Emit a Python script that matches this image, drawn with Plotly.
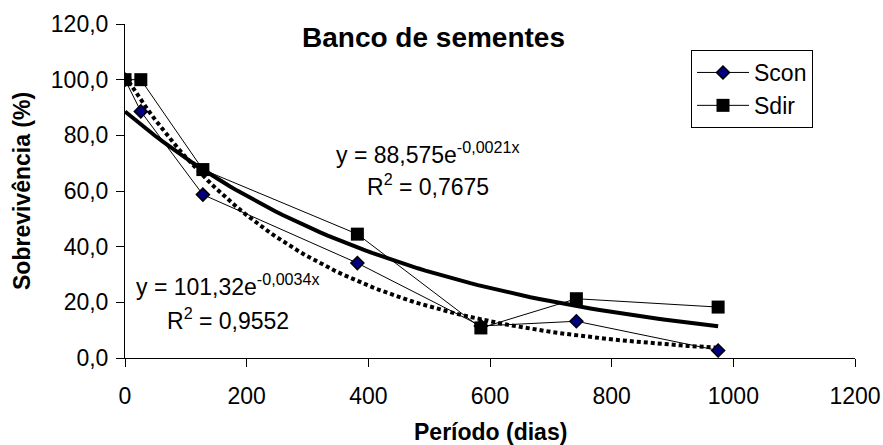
import numpy as np
import plotly.graph_objects as go

# ---- data ----
days = [0, 26, 128, 382, 585, 742, 975]
scon = [100.0, 88.6, 58.7, 34.1, 11.5, 13.2, 2.7]
sdir = [100.0, 100.0, 67.7, 44.5, 10.8, 21.3, 18.3]

# exponential trendline coefficients shown on the chart: y = a * exp(b x)
trend_scon = (101.32, -0.0034)
trend_sdir = (88.575, -0.0021)

x_ticks = [0, 200, 400, 600, 800, 1000, 1200]
y_ticks = [0, 20, 40, 60, 80, 100, 120]
y_tick_labels = ["0,0", "20,0", "40,0", "60,0", "80,0", "100,0", "120,0"]

FONT = "Liberation Sans, Arial, sans-serif"
FS = 23

xt = np.linspace(min(days), max(days), 80)

fig = go.Figure()

# trendlines
fig.add_trace(go.Scatter(
    x=xt, y=trend_scon[0] * np.exp(trend_scon[1] * xt), mode="lines",
    line=dict(color="black", width=4, dash="4px,3px"), showlegend=False, hoverinfo="skip"))
fig.add_trace(go.Scatter(
    x=xt, y=trend_sdir[0] * np.exp(trend_sdir[1] * xt), mode="lines",
    line=dict(color="black", width=4), showlegend=False, hoverinfo="skip"))

# series
fig.add_trace(go.Scatter(
    x=days, y=scon, name="Scon", mode="lines+markers",
    line=dict(color="black", width=1),
    marker=dict(symbol="diamond", size=10, color="#000080", line=dict(color="black", width=1.5))))
fig.add_trace(go.Scatter(
    x=days, y=sdir, name="Sdir", mode="lines+markers",
    line=dict(color="black", width=1),
    marker=dict(symbol="square", size=13, color="black", line=dict(color="black", width=0))))

L, R, T, B = 125, 855, 24, 358

fig.update_layout(
    width=883, height=445,
    margin=dict(l=L, r=883 - R, t=T, b=445 - B, autoexpand=False),
    paper_bgcolor="white", plot_bgcolor="white",
    font=dict(family=FONT, size=FS, color="black"),
    showlegend=True,
    legend=dict(x=(691 - L) / (R - L), y=(B - 50) / (B - T), xanchor="left", yanchor="top",
                bgcolor="white", bordercolor="black", borderwidth=1,
                font=dict(family=FONT, size=23, color="black"),
                itemwidth=52, tracegroupgap=0),
    xaxis=dict(range=[0, 1200], tickvals=x_ticks, ticktext=[str(v) for v in x_ticks],
               showgrid=False, zeroline=False, showline=True, linecolor="black", linewidth=1,
               ticks="outside", ticklen=8, tickcolor="black", tickwidth=1,
               ticklabelstandoff=9, automargin=False,
               tickfont=dict(family=FONT, size=FS, color="black")),
    yaxis=dict(range=[0, 120], tickvals=y_ticks, ticktext=y_tick_labels,
               showgrid=False, zeroline=False, showline=True, linecolor="black", linewidth=1,
               ticks="outside", ticklen=8, tickcolor="black", tickwidth=1,
               ticklabelstandoff=3, automargin=False,
               tickfont=dict(family=FONT, size=FS, color="black")),
)

def px(xp):
    return (xp - L) / (R - L)
def py(yp):
    return (B - yp) / (B - T)

labels = [
    ("<b>Banco de sementes</b>", 433, 37, 28, 0),
    ("y = 88,575e<sup>-0,0021x</sup>", 428, 153, FS, 0),
    ("R<sup>2</sup> = 0,7675", 428, 185, FS, 0),
    ("y = 101,32e<sup>-0,0034x</sup>", 228, 285, FS, 0),
    ("R<sup>2</sup> = 0,9552", 228, 319, FS, 0),
    ("<b>Período (dias)</b>", 490, 432, FS, 0),
    ("<b>Sobrevivência (%)</b>", 22, 191, FS, -90),
]
for text, xp, yp, size, ang in labels:
    fig.add_annotation(text=text, x=px(xp), y=py(yp), xref="paper", yref="paper",
                       xanchor="center", yanchor="middle", showarrow=False, textangle=ang,
                       font=dict(family=FONT, size=size, color="black"))

fig.write_html("out.html", config={"displayModeBar": False},
               post_script="document.body.style.margin='0';document.body.style.overflow='hidden';")
